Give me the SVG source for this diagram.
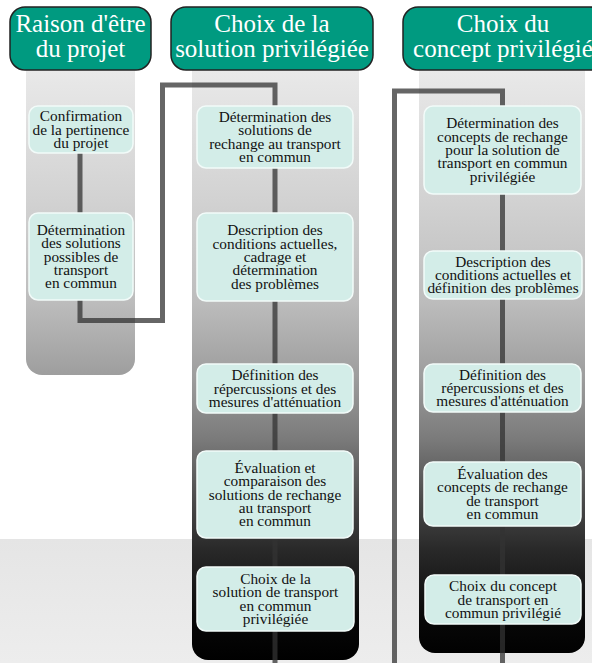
<svg xmlns="http://www.w3.org/2000/svg" width="592" height="663" viewBox="0 0 592 663">
<defs>
<linearGradient id="colg" gradientUnits="userSpaceOnUse" x1="0" y1="70" x2="0" y2="660">
<stop offset="0" stop-color="#e9e9e9"/>
<stop offset="0.22" stop-color="#d2d2d2"/>
<stop offset="0.39" stop-color="#bdbdbd"/>
<stop offset="0.517" stop-color="#9e9e9e"/>
<stop offset="0.627" stop-color="#7a7a7a"/>
<stop offset="0.73" stop-color="#4a4a4a"/>
<stop offset="0.81" stop-color="#2a2a2a"/>
<stop offset="0.93" stop-color="#080808"/>
<stop offset="1" stop-color="#000000"/>
</linearGradient>
<linearGradient id="bandg" x1="0" y1="0" x2="0" y2="1">
<stop offset="0" stop-color="#e5e5e5"/>
<stop offset="1" stop-color="#ededed"/>
</linearGradient>
</defs>
<style>
.col{fill:url(#colg);}
.hdr{fill:#009a80;stroke:#222;stroke-width:1.5;}
.ht{font-family:'Liberation Serif','DejaVu Serif',serif;font-size:25px;fill:#ffffff;text-anchor:middle;}
.box{fill:#d3ede8;stroke:#f2fbf9;stroke-width:1.5;}
.bt{font-family:'Liberation Serif','DejaVu Serif',serif;font-size:15.3px;fill:#111;text-anchor:middle;}
.con{fill:none;stroke:#333;stroke-opacity:0.75;stroke-width:5;stroke-linejoin:miter;}
</style>
<rect x="0" y="0" width="592" height="663" fill="#ffffff"/>
<rect x="0" y="539" width="592" height="124" fill="url(#bandg)"/>

<g id="columns">
<path class="col" d="M26,70 H135 V359 A16,16 0 0 1 119,375 H42 A16,16 0 0 1 26,359 Z"/>
<path class="col" d="M192,70 H359 V644 A16,16 0 0 1 343,660 H208 A16,16 0 0 1 192,644 Z"/>
<path class="col" d="M419,70 H585 V637 A16,16 0 0 1 569,653 H435 A16,16 0 0 1 419,637 Z"/>
</g>

<g id="connectors">
<path class="con" d="M80,130 V320.5 H162.5 V85 H275 V663"/>
<path class="con" d="M394.5,663 V91 H502.5 V663"/>
</g>

<g id="h1">
<rect class="hdr" x="10" y="7" width="141" height="63" rx="15"/>
<text class="ht" font-family="Liberation Serif, serif" x="80.5" y="32">Raison d'être</text>
<text class="ht" font-family="Liberation Serif, serif" x="80.5" y="57">du projet</text>
</g>
<g id="h2">
<rect class="hdr" x="171" y="7" width="202" height="63" rx="15"/>
<text class="ht" x="272" y="32">Choix de la</text>
<text class="ht" x="272" y="57">solution privilégiée</text>
</g>
<g id="h3">
<rect class="hdr" x="403" y="7" width="202" height="63" rx="15"/>
<text class="ht" x="503" y="32">Choix du</text>
<text class="ht" x="503" y="57">concept privilégié</text>
</g>

<g id="c1b1">
<rect class="box" x="29" y="106" width="104" height="47" rx="9"/>
<text class="bt" x="81" y="121.2">Confirmation</text>
<text class="bt" x="81" y="134.5">de la pertinence</text>
<text class="bt" x="81" y="147.8">du projet</text>
</g>
<g id="c1b2">
<rect class="box" x="29" y="213" width="104" height="87" rx="9"/>
<text class="bt" x="81" y="235">Détermination</text>
<text class="bt" x="81" y="248.3">des solutions</text>
<text class="bt" x="81" y="261.6">possibles de</text>
<text class="bt" x="81" y="274.9">transport</text>
<text class="bt" x="81" y="288.2">en commun</text>
</g>

<g id="c2b1">
<rect class="box" x="197" y="106" width="156" height="62" rx="9"/>
<text class="bt" x="275" y="122">Détermination des</text>
<text class="bt" x="275" y="135.3">solutions de</text>
<text class="bt" x="275" y="148.6">rechange au transport</text>
<text class="bt" x="275" y="161.9">en commun</text>
</g>
<g id="c2b2">
<rect class="box" x="197" y="213" width="156" height="88" rx="9"/>
<text class="bt" x="275" y="235.4">Description des</text>
<text class="bt" x="275" y="248.7">conditions actuelles,</text>
<text class="bt" x="275" y="262">cadrage et</text>
<text class="bt" x="275" y="275.3">détermination</text>
<text class="bt" x="275" y="288.6">des problèmes</text>
</g>
<g id="c2b3">
<rect class="box" x="197" y="364" width="156" height="49" rx="9"/>
<text class="bt" x="275" y="380.2">Définition des</text>
<text class="bt" x="275" y="393.5">répercussions et des</text>
<text class="bt" x="275" y="406.8">mesures d'atténuation</text>
</g>
<g id="c2b4">
<rect class="box" x="197" y="451" width="156" height="87" rx="9"/>
<text class="bt" x="275" y="472.9">Évaluation et</text>
<text class="bt" x="275" y="486.2">comparaison des</text>
<text class="bt" x="275" y="499.5">solutions de rechange</text>
<text class="bt" x="275" y="512.8">au transport</text>
<text class="bt" x="275" y="526.1">en commun</text>
</g>
<g id="c2b5">
<rect class="box" x="197" y="567" width="157" height="64" rx="9"/>
<text class="bt" x="275.5" y="584">Choix de la</text>
<text class="bt" x="275.5" y="597.3">solution de transport</text>
<text class="bt" x="275.5" y="610.6">en commun</text>
<text class="bt" x="275.5" y="623.9">privilégiée</text>
</g>

<g id="c3b1">
<rect class="box" x="424" y="106" width="157" height="88" rx="9"/>
<text class="bt" x="502.5" y="128.4">Détermination des</text>
<text class="bt" x="502.5" y="141.7">concepts de rechange</text>
<text class="bt" x="502.5" y="155">pour la solution de</text>
<text class="bt" x="502.5" y="168.3">transport en commun</text>
<text class="bt" x="502.5" y="181.6">privilégiée</text>
</g>
<g id="c3b2">
<rect class="box" x="424" y="251" width="158" height="48" rx="9"/>
<text class="bt" x="503" y="266.7">Description des</text>
<text class="bt" x="503" y="280">conditions actuelles et</text>
<text class="bt" x="503" y="293.3">définition des problèmes</text>
</g>
<g id="c3b3">
<rect class="box" x="424" y="364" width="157" height="48" rx="9"/>
<text class="bt" x="502.5" y="379.7">Définition des</text>
<text class="bt" x="502.5" y="393">répercussions et des</text>
<text class="bt" x="502.5" y="406.3">mesures d'atténuation</text>
</g>
<g id="c3b4">
<rect class="box" x="424" y="462" width="157" height="64" rx="9"/>
<text class="bt" x="502.5" y="479">Évaluation des</text>
<text class="bt" x="502.5" y="492.3">concepts de rechange</text>
<text class="bt" x="502.5" y="505.6">de transport</text>
<text class="bt" x="502.5" y="518.9">en commun</text>
</g>
<g id="c3b5">
<rect class="box" x="425" y="575" width="156" height="49" rx="9"/>
<text class="bt" x="503" y="591.2">Choix du concept</text>
<text class="bt" x="503" y="604.5">de transport en</text>
<text class="bt" x="503" y="617.8">commun privilégié</text>
</g>
</svg>
